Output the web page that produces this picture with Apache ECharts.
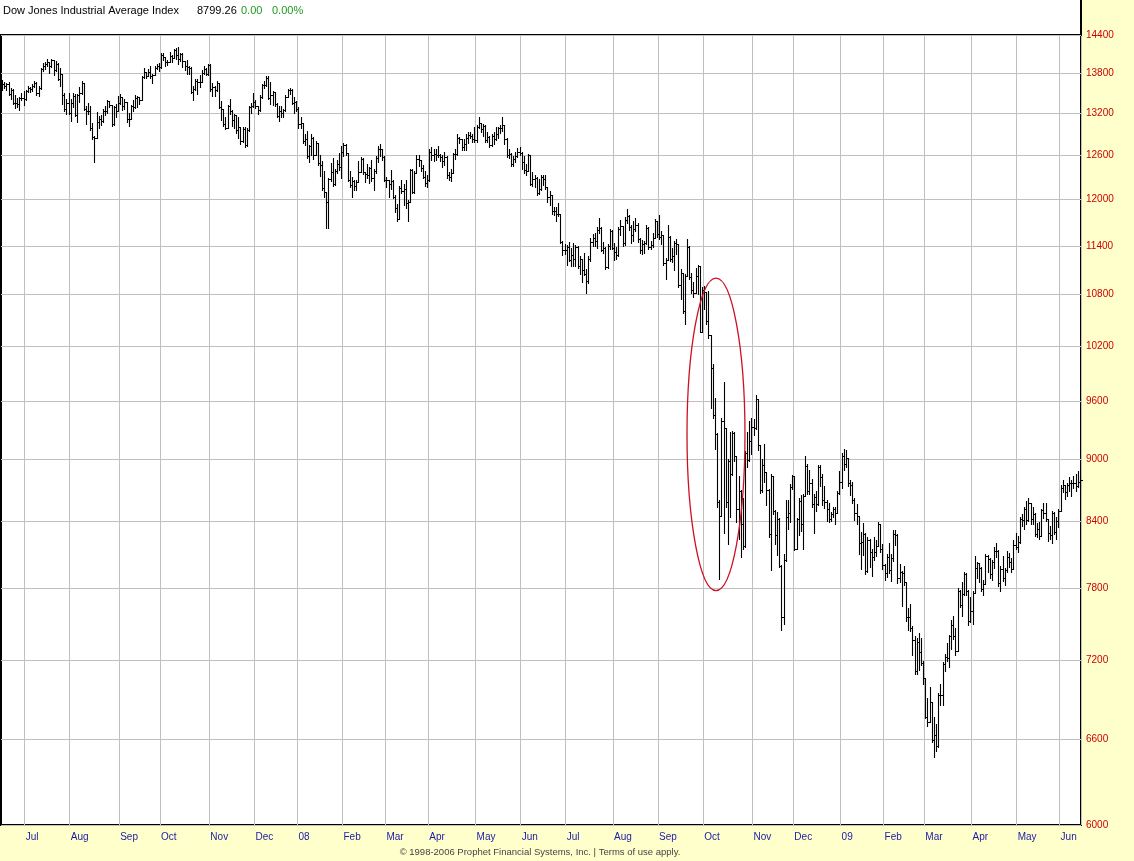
<!DOCTYPE html>
<html>
<head>
<meta charset="utf-8">
<script src="https://cdn.jsdelivr.net/npm/echarts@6/dist/echarts.min.js"></script>
<style>
html,body{margin:0;padding:0;background:#ffffcc;}
#chart{width:1134px;height:861px;}
</style>
</head>
<body>
<div id="chart"></div>
<script>
// ---- axis / category data ----
const monthLabels = ['', 'Jul','Aug','Sep','Oct','Nov','Dec','08','Feb','Mar','Apr','May','Jun','Jul','Aug','Sep','Oct','Nov','Dec','09','Feb','Mar','Apr','May','Jun'];
const monthDays   = [11,21,23,19,23,21,20,21,20,20,22,21,21,22,21,21,23,19,22,20,19,22,21,20,10];
const yTicks = [6000,6600,7200,7800,8400,9000,9600,10200,10800,11400,12000,12600,13200,13800,14400];

// ---- header / footer texts ----
const titleText = 'Dow Jones Industrial Average Index';
const lastValue = '8799.26';
const changeText = '0.00';
const changePct = '0.00%';
const footerText = '\u00A9 1998-2006 Prophet Financial Systems, Inc. | Terms of use apply.';

// ---- annotation ellipse (bar index range, value range) ----
const ellipseDays = [319, 345.7];
const ellipseValues = [11000, 7780];

// ---- daily closes (Jun 15 2007 .. Jun 12 2009), one line per month ----
const closes = [
13639,13612,13635,13489,13545,13361,13352,13337,13427,13422,13408,
13535,13577,13565,13612,13649,13501,13577,13861,13907,13950,13971,13918,14000,13851,13943,13716,13785,13474,13266,13358,13212,
13362,13463,13182,13468,13504,13658,13271,13240,13237,12991,12861,12846,13079,13121,13090,13236,13236,13379,13322,13042,13289,13239,13358,
13449,13306,13363,13113,13127,13308,13292,13424,13442,13404,13739,13816,13767,13821,13759,13779,13878,13913,13896,
14088,14047,13969,13975,14066,14044,14165,14079,14015,14093,13985,13913,13893,13889,13522,13567,13677,13676,13672,13807,13871,13793,13930,
13567,13595,13543,13661,13300,13267,13043,12988,13307,13231,13110,13177,12958,13011,12800,12981,12743,12958,13289,13312,13372,
13315,13249,13445,13620,13626,13728,13433,13474,13518,13340,13168,13233,13207,13246,13451,13550,13552,13360,13366,13265,
13044,13057,12800,12828,12590,12736,12853,12606,12778,12501,12467,12159,12099,11971,12271,12378,12207,12384,12480,12443,12650,
12743,12635,12265,12200,12248,12183,12241,12374,12552,12377,12348,12337,12427,12285,12381,12570,12684,12694,12582,12266,
12258,12213,12254,12040,11894,11740,12156,12111,12145,11951,11972,12393,12100,12361,12549,12533,12423,12303,12216,12263,
12655,12608,12627,12610,12612,12577,12528,12581,12325,12303,12362,12620,12620,12849,12826,12721,12763,12849,12892,12872,12832,12820,
13010,13058,12969,13021,12815,12866,12745,12876,12832,12898,12992,12986,13028,12828,12601,12625,12480,12548,12594,12647,12638,
12503,12403,12391,12604,12210,12280,12289,12084,12141,12308,12270,12161,12030,12063,11843,11843,11807,11812,11453,11347,11350,
11382,11216,11289,11232,11385,11148,11229,11100,11055,10963,11239,11446,11497,11467,11603,11632,11350,11371,11132,11398,11584,11378,
11327,11284,11616,11656,11432,11734,11783,11642,11533,11616,11660,11480,11349,11418,11431,11628,11387,11413,11503,11715,11544,
11517,11533,11188,11220,11511,11231,11268,11434,11422,10918,11059,10610,11020,11388,11016,10854,10825,11023,11143,10365,10851,
10831,10483,10325,9955,9447,9258,8579,8451,9387,9311,8578,8979,8852,9265,9034,8519,8691,8378,8175,9065,8991,9181,9325,
9319,9625,9139,8695,8943,8870,8694,8283,8836,8497,8273,8425,7997,7552,8046,8443,8479,8727,8829,
8149,8419,8591,8376,8635,8934,8691,8761,8566,8629,8565,8924,8824,8604,8579,8519,8419,8468,8515,8483,8668,8776,
9035,8953,9015,8769,8742,8600,8474,8448,8200,8212,8281,7949,8229,8123,8077,8117,8175,8375,8149,8001,
7936,8078,7957,8063,8281,8270,7889,7939,7933,7850,7553,7556,7466,7366,7114,7351,7271,7183,7063,
6763,6726,6876,6594,6627,6547,6926,6930,7170,7224,7217,7395,7487,7401,7279,7776,7660,7750,7924,7776,7523,7609,
7761,7978,8018,7975,7790,7837,8083,8058,7920,8029,8125,8131,7842,7970,7887,7957,8076,8026,7970,8185,8168,
8212,8426,8410,8512,8409,8575,8418,8469,8285,8331,8268,8504,8475,8423,8294,8277,8474,8300,8404,8500,
8721,8741,8676,8750,8764,8764,8763,8739,8770,8799
];

const highs = [
13692,13661,13650,13660,13570,13560,13470,13420,13440,13500,13520,
13545,13600,13590,13630,13670,13660,13600,13870,13950,13970,14020,13970,14022,14000,13990,13950,13880,13785,13500,13400,13500,
13400,13500,13480,13480,13590,13680,13650,13300,13350,13300,13050,12870,13220,13160,13170,13260,13300,13390,13380,13320,13300,13330,13450,
13480,13440,13400,13360,13200,13320,13390,13460,13450,13440,13750,13880,13820,13860,13900,13790,13900,13940,13950,
14100,14110,14050,14000,14120,14070,14170,14180,14198,14110,14100,13990,14000,13910,13890,13600,13700,13700,13770,13850,13900,13880,13940,
13930,13640,13600,13680,13650,13380,13260,13140,13320,13410,13250,13190,13170,13140,13000,12990,13000,12980,13300,13350,13500,
13390,13310,13460,13630,13680,13750,13760,13660,13530,13510,13340,13300,13300,13260,13460,13560,13570,13550,13440,13370,
13290,13140,13050,12900,12940,12740,12900,12850,12800,12770,12600,12510,12380,12090,12280,12490,12560,12400,12530,12630,12720,
12770,12750,12630,12380,12300,12260,12260,12520,12570,12560,12370,12480,12440,12530,12400,12590,12730,12760,12690,12580,
12300,12260,12390,12250,12050,11930,12170,12250,12200,12250,11990,12400,12400,12380,12600,12600,12530,12460,12380,12320,
12680,12710,12680,12690,12720,12620,12600,12640,12580,12370,12400,12630,12680,12890,12860,12830,12820,12900,12920,12930,12890,12990,
13030,13140,13060,13040,13030,12920,12870,12890,12930,13000,13000,13030,13140,13030,12840,12690,12630,12580,12640,12700,12710,
12640,12580,12480,12620,12600,12360,12330,12290,12270,12320,12330,12320,12160,12110,12060,11900,11900,11950,11800,11460,11420,
11400,11440,11370,11430,11400,11390,11260,11230,11300,11100,11260,11490,11550,11560,11640,11750,11630,11440,11380,11420,11610,11600,
11430,11380,11630,11730,11650,11760,11870,11790,11660,11710,11750,11680,11490,11470,11460,11660,11630,11460,11560,11740,11710,
11790,11580,11530,11240,11660,11520,11370,11450,11480,11420,11100,11060,11040,11480,11390,11050,10950,11120,11150,11140,10880,
10900,10830,10840,10320,10000,9630,9260,8600,9410,9794,9310,9000,9270,9280,9270,9030,8830,8690,8620,9080,9270,9380,9410,
9400,9653,9620,9140,9000,9150,8870,8700,8850,8830,8500,8480,8430,8000,8100,8600,8600,8750,8840,
8830,8430,8620,8640,8650,9030,8950,8890,8800,8650,8680,8940,8940,8850,8730,8600,8570,8480,8530,8530,8680,8880,
9060,9100,9088,9010,8790,8770,8620,8560,8440,8300,8380,8290,8250,8230,8140,8250,8220,8390,8370,8190,
8010,8100,8200,8100,8320,8320,8280,8010,7950,7990,7840,7630,7660,7480,7390,7380,7420,7380,7190,
7050,6900,6990,6870,6760,6710,6940,7010,7180,7250,7340,7400,7530,7560,7460,7800,7780,7850,7940,7930,7780,7720,
7770,8080,8030,8020,7980,7870,8100,8090,8060,8040,8160,8200,8130,7990,8080,7970,8120,8110,8060,8220,8290,
8260,8440,8460,8530,8590,8620,8570,8530,8470,8380,8390,8510,8570,8570,8420,8350,8490,8480,8440,8510,
8740,8790,8740,8760,8820,8790,8830,8850,8880,8830
];

const lows = [
13553,13580,13560,13480,13420,13340,13290,13300,13260,13400,13330,
13408,13520,13530,13540,13600,13480,13470,13577,13840,13880,13920,13820,13910,13780,13850,13700,13620,13350,13250,13200,13200,
13100,13300,13170,13080,13380,13500,13260,13050,13200,12970,12840,12517,12850,13000,13040,13090,13190,13210,13300,13030,13040,13150,13240,
13340,13260,13280,13080,13020,13130,13250,13290,13300,13350,13400,13740,13730,13770,13740,13660,13780,13870,13850,
13890,14020,13920,13940,13980,13990,14040,14030,13960,14000,13900,13860,13800,13800,13510,13400,13560,13500,13600,13670,13800,13780,13790,
13540,13460,13470,13540,13290,13120,13020,12980,12990,13200,13030,13000,12930,12850,12770,12800,12730,12740,12960,13220,13310,
13290,13200,13250,13440,13580,13620,13420,13350,13330,13320,13150,13100,13150,13150,13250,13450,13500,13350,13220,13250,
12990,13000,12780,12750,12570,12520,12620,12560,12610,12470,12330,12130,12040,11634,11640,12260,12190,12200,12370,12400,12300,
12600,12620,12250,12180,12040,12130,12130,12240,12380,12350,12240,12300,12230,12260,12130,12370,12520,12600,12540,12250,
12180,12040,12150,12030,11840,11730,11750,12100,11930,11900,11730,11980,12090,12090,12360,12460,12390,12290,12190,12180,
12260,12550,12530,12540,12580,12530,12450,12480,12300,12270,12250,12370,12560,12620,12780,12680,12690,12680,12780,12850,12800,12790,
12800,12990,12940,12880,12800,12790,12720,12740,12770,12830,12850,12930,12950,12770,12580,12570,12460,12460,12520,12580,12610,
12420,12370,12340,12390,12200,12190,12170,12070,12080,12140,12200,12150,11980,11940,11820,11800,11730,11790,11440,11290,11300,
11170,11210,11150,11150,11150,11130,11050,10960,11040,10827,10940,11220,11400,11410,11380,11570,11340,11320,11120,11130,11370,11360,
11230,11240,11280,11540,11400,11420,11700,11610,11440,11470,11590,11450,11320,11300,11320,11430,11370,11360,11390,11500,11520,
11490,11430,11170,11000,11230,11220,11200,11100,11300,10900,10750,10590,10460,11030,11000,10830,10780,10830,10810,10365,10370,
10630,10460,10300,9530,9430,9110,8540,7882,8460,8300,8540,8197,8450,8850,8990,8400,8240,8080,8150,8170,8930,8990,9060,
9250,9310,9100,8670,8680,8780,8560,8260,7965,8470,8200,8100,7990,7449,7500,8040,8330,8400,8710,
8140,8150,8280,8320,8150,8640,8660,8660,8540,8300,8500,8560,8740,8560,8530,8410,8400,8410,8450,8380,8480,8660,
8720,8900,8930,8740,8650,8580,8420,8380,8110,7970,8100,7930,7950,7990,7910,8050,8090,8180,8120,7970,
7880,7900,7940,7870,8040,8190,7850,7860,7650,7830,7530,7450,7440,7250,7100,7100,7130,7170,7020,
6760,6700,6730,6580,6470,6517,6547,6860,6860,7120,7200,7150,7300,7380,7250,7280,7640,7570,7750,7750,7490,7520,
7500,7760,7890,7860,7780,7750,7840,7950,7890,7880,7980,8080,7820,7780,7870,7830,7950,7990,7950,7970,8150,
8120,8210,8360,8330,8380,8410,8380,8380,8270,8260,8240,8270,8440,8410,8220,8240,8210,8290,8240,8350,
8500,8680,8620,8640,8690,8640,8720,8690,8730,8720
];

// ---- build categories from month arrays ----
const categories = [];
monthDays.forEach((n, m) => { for (let k = 0; k < n; k++) categories.push(m + '-' + k); });
const isMonthStart = (idx, val) => {
  const parts = String(val).split('-');
  return parts[1] === '0' && monthLabels[+parts[0]] !== '';
};

const seriesData = closes.map((c, i) => [i, highs[i], lows[i], c]);

function renderItem(params, api) {
  const i = api.value(0);
  const pH = api.coord([i, api.value(1)]);
  const pL = api.coord([i, api.value(2)]);
  const pC = api.coord([i, api.value(3)]);
  const x = Math.round(pH[0]) + 0.5;
  const yc = Math.round(pC[1]) + 0.5;
  return {
    type: 'group',
    children: [
      { type: 'line', shape: { x1: x, y1: Math.floor(pH[1]), x2: x, y2: Math.ceil(pL[1]) + 1 }, style: { stroke: '#000', lineWidth: 1.1 } },
      { type: 'line', shape: { x1: x, y1: yc, x2: x + 2.5, y2: yc }, style: { stroke: '#000', lineWidth: 1 } }
    ]
  };
}

const FONT = '"Liberation Sans", Arial, sans-serif';

function baseGraphic() {
  return [
    { type: 'rect', shape: { x: 0, y: 0, width: 1081, height: 34 }, style: { fill: '#ffffff' }, z: 0 },
    { type: 'line', shape: { x1: 0, y1: 35, x2: 1082, y2: 35 }, style: { stroke: '#000', lineWidth: 2 }, z: 1 },
    { type: 'line', shape: { x1: 1081, y1: 0, x2: 1081, y2: 36 }, style: { stroke: '#000', lineWidth: 2 }, z: 1 },
    { type: 'text', style: { text: titleText, x: 3, y: 11, fill: '#000', font: '11px ' + FONT, verticalAlign: 'middle' }, z: 2 },
    { type: 'text', style: { text: lastValue, x: 197, y: 11, fill: '#000', font: '11px ' + FONT, verticalAlign: 'middle' }, z: 2 },
    { type: 'text', style: { text: changeText, x: 241, y: 11, fill: '#1d9a1d', font: '11px ' + FONT, verticalAlign: 'middle' }, z: 2 },
    { type: 'text', style: { text: changePct, x: 272, y: 11, fill: '#1d9a1d', font: '11px ' + FONT, verticalAlign: 'middle' }, z: 2 },
    { type: 'text', style: { text: footerText, x: 540, y: 852, fill: '#444', font: '9.5px ' + FONT, align: 'center', verticalAlign: 'middle' }, z: 2 }
  ];
}

function buildOption(extraGraphic) {
  return {
    backgroundColor: '#ffffcc',
    animation: false,
    grid: { left: 1, right: 53, top: 35, bottom: 36, show: true, backgroundColor: '#ffffff', borderColor: '#000', borderWidth: 2 },
    xAxis: {
      type: 'category', data: categories, boundaryGap: true,
      axisLine: { show: false }, axisTick: { show: false },
      axisLabel: {
        interval: isMonthStart,
        formatter: v => monthLabels[+String(v).split('-')[0]],
        align: 'left', color: '#1a1aa6', fontSize: 10, fontFamily: FONT, margin: 7
      },
      splitLine: { show: true, interval: isMonthStart, lineStyle: { color: '#c0c0c0', width: 1 } }
    },
    yAxis: {
      type: 'log', logBase: 10, min: 6000, max: 14400,
      axisLine: { show: false }, axisTick: { show: false }, axisLabel: { show: false }, splitLine: { show: false }
    },
    series: [{
      type: 'custom', renderItem: renderItem, data: seriesData,
      encode: { x: 0, y: [1, 2, 3] }, z: 3, silent: true,
      markLine: {
        silent: true, symbol: ['none', 'none'], z: 1, animation: false,
        lineStyle: { color: '#c0c0c0', width: 1, type: 'solid' },
        label: { show: true, position: 'end', distance: 5, formatter: p => String(p.value), color: '#cc0000', fontSize: 10, fontFamily: FONT },
        data: yTicks.map(v => ({ yAxis: v }))
      }
    }],
    graphic: baseGraphic().concat(extraGraphic || [])
  };
}

const chart = echarts.init(document.getElementById('chart'), null, { renderer: 'canvas' });
chart.setOption(buildOption([]));

const pLeft = chart.convertToPixel({ gridIndex: 0 }, [ellipseDays[0], ellipseValues[0]]);
const pRight = chart.convertToPixel({ gridIndex: 0 }, [ellipseDays[1], ellipseValues[1]]);
const ell = {
  type: 'ellipse',
  shape: { cx: (pLeft[0] + pRight[0]) / 2, cy: (pLeft[1] + pRight[1]) / 2, rx: Math.abs(pRight[0] - pLeft[0]) / 2, ry: Math.abs(pRight[1] - pLeft[1]) / 2 },
  style: { fill: null, stroke: '#cc1122', lineWidth: 1.3 },
  z: 10
};
chart.setOption(buildOption([ell]), true);
</script>
</body>
</html>
